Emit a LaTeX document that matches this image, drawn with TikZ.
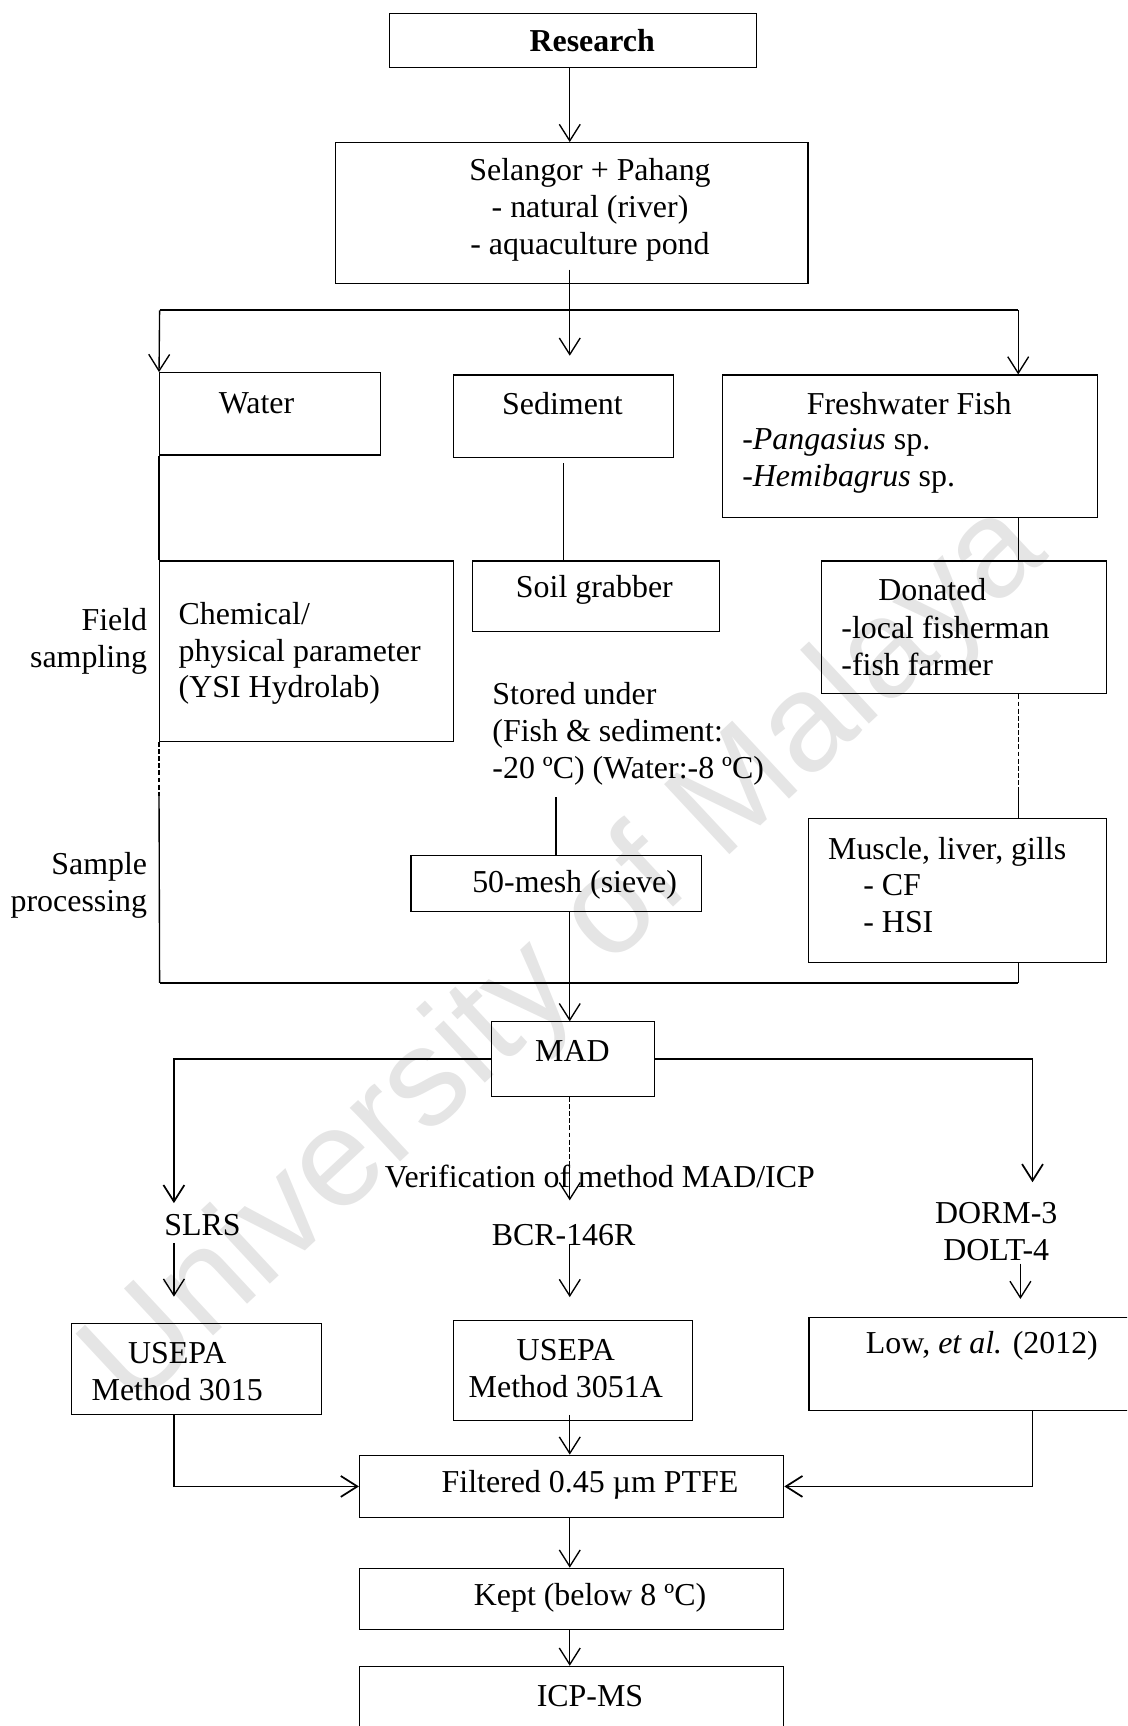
\documentclass[tikz,border=0pt]{standalone}
\usepackage{fontspec}
\setmainfont{Liberation Serif}
\newfontfamily\markfont{Liberation Sans}
\usetikzlibrary{arrows.meta, positioning, calc, fit}

\begin{document}
\begin{tikzpicture}[
  x=0.02cm, y=-0.02cm,
  box/.style = {draw, line width=0.6pt, inner sep=0pt},
  txt/.style = {inner sep=0pt, font=\fontsize{16.5}{19.1}\selectfont},
  line/.style = {line width=0.7pt},
  bus/.style = {line width=1pt},
  dashline/.style = {line width=0.7pt, dash pattern=on 2.5pt off 1.2pt},
  arrow/.style = {line width=0.7pt, -{Straight Barb[length=3mm, width=3.8mm]}}
]

\useasboundingbox (0,0) rectangle (1024,1568);
\clip (0,0) rectangle (1024,1568);

% Watermark
\node[rotate=43, text=black!10, font=\markfont\fontsize{72}{72}\selectfont] (mark) at (515,870) {University of Malaya};

% Helper coordinates
\coordinate (spine) at (517.6,0);
\coordinate (doltx) at (927,0);
\coordinate (bus1) at (145,282);
\coordinate (bus1r) at (925,282);
\coordinate (bus2) at (145,893);
\coordinate (bus2r) at (925,893);
\coordinate (slrstop) at (158,1093);
\coordinate (dormtop) at (938,1074);

% Boxes
\node[box, fit={(354,12) (687,61)}] (research) {};
\node[box, fit={(305,129.6) (734,257.4)}] (selangor) {};
\node[box, fit={(145,338.6) (346,413.4)}] (water) {};
\node[box, fit={(412,340.7) (611.6,415.5)}] (sediment) {};
\node[box, fit={(656.6,340.7) (996.8,470.4)}] (fish) {};
\node[box, fit={(145,509.7) (412,673.3)}] (chem) {};
\node[box, fit={(429,509.7) (653.4,574)}] (soil) {};
\node[box, fit={(746,509.7) (1005.2,630.3)}] (donated) {};
\node[box, fit={(373.4,776.8) (637,828.3)}] (mesh) {};
\node[box, fit={(734.3,743.5) (1005.2,874.7)}] (muscle) {};
\node[box, fit={(446.5,928.3) (594.7,995.8)}] (mad) {};
\node[box, fit={(65.3,1202.5) (292.4,1285)}] (usepaA) {};
\node[box, fit={(411.9,1199.9) (629.2,1290.7)}] (usepaB) {};
\node[box, fit={(734.9,1196.6) (1040,1281)}] (low) {};
\node[box, fit={(326.6,1322) (712,1378.7)}] (filt) {};
\node[box, fit={(326.6,1424.7) (712,1480.4)}] (kept) {};
\node[box, fit={(326.6,1513.8) (712,1580)}] (icp) {};

% Texts
\node[txt] (researchtxt) at (538,37) {\bfseries Research};
\node[txt, align=center] (selangortxt) at (536,190.5) {Selangor + Pahang\\- natural (river)\\- aquaculture pond};
\node[txt] (watertxt) at (233,366) {Water};
\node[txt] (sedimenttxt) at (511,367) {Sediment};
\node[txt] (fishtxt) at (826,367) {Freshwater Fish};
\node[txt, anchor=west, align=left] (fishlist) at (674,419) {-\textit{Pangasius} sp.\\-\textit{Hemibagrus} sp.};
\node[txt, anchor=west, align=left] (chemtxt) at (162,593.6) {Chemical/\\physical parameter\\(YSI Hydrolab)};
\node[txt] (soiltxt) at (540,536) {Soil grabber};
\node[txt] (donatedtxt) at (847,536) {Donated};
\node[txt, anchor=west, align=left] (donatedlist) at (764,587) {-local fisherman\\-fish farmer};
\node[txt, anchor=east, align=right] (field) at (134,583) {Field\\sampling};
\node[txt, anchor=west, align=left] (stored) at (447,667) {Stored under\\(Fish \& sediment:\\-20 ºC) (Water:-8 ºC)};
\node[txt, anchor=east, align=right] (sample) at (134,804) {Sample\\processing};
\node[txt] (meshtxt) at (522,804) {50-mesh (sieve)};
\node[txt, anchor=west, align=left] (muscletxt) at (752,804) {Muscle, liver, gills\\\hspace*{0.64cm}- CF\\\hspace*{0.64cm}- HSI};
\node[txt] (madtxt) at (520,955) {MAD};
\node[txt] (verif) at (545,1068.7) {Verification of method MAD/ICP};
\node[txt] (slrs) at (184,1113) {SLRS};
\node[txt] (bcr) at (512,1122) {BCR-146R};
\node[txt, align=center] (dorm) at (905,1119) {DORM-3\\DOLT-4};
\node[txt, align=center] (usepaAtxt) at (161,1246) {USEPA\\Method 3015};
\node[txt, align=center] (usepaBtxt) at (514,1243) {USEPA\\Method 3051A};
\node[txt] (lowtxt) at (892,1223) {Low, \textit{et al.} (2012)};
\node[txt] (filttxt) at (536,1349) {Filtered 0.45 µm PTFE};
\node[txt] (kepttxt) at (536,1451.5) {Kept (below 8 ºC)};
\node[txt] (icptxt) at (536,1541) {ICP-MS};

% Study area
\draw[arrow] (research.south -| spine) -- (selangor.north -| spine);
\draw[line] ($(selangor.south -| spine)+(0,-13)$) -- (bus1 -| spine);
\draw[bus] (bus1) -- (bus1r);
\draw[arrow] (bus1) -- (water.north west);
\draw[arrow] (bus1 -| spine) -- ($(sediment.north -| spine)+(0,-17)$);
\draw[arrow] (bus1r) -- (fish.north -| bus1r);

% Field sampling
\draw[line] (water.south west) -- (chem.north west);
\draw[line] ([yshift=-0.1cm]sediment.south) -- (sediment.south |- soil.north);
\draw[line] (fish.south -| bus1r) -- (donated.north -| bus1r);

% Sample processing
\draw[dashline] (chem.south west) -- ++(0,49) coordinate (chemcut);
\draw[line] (chemcut) -- (bus2);
\draw[line] ($(stored.south -| mesh.north)+(0,10)$) -- (mesh.north);
\draw[line] (mesh.south -| spine) -- (bus2 -| spine);
\draw[dashline] (donated.south -| bus1r) -- ++(0,84) coordinate (doncut);
\draw[line] (doncut) -- (muscle.north -| bus1r);
\draw[line] (muscle.south -| bus1r) -- (bus2r);
\draw[bus] (bus2) -- (bus2r);

% Digestion and verification
\draw[arrow] (bus2 -| spine) -- (mad.north -| spine);
\draw[arrow, line width=0.9pt] (mad.west) -| (slrstop);
\draw[arrow, line width=0.9pt] (mad.east) -| (dormtop);
\draw[dashline] (mad.south -| spine) -- (verif.north -| spine);
\draw[arrow] (verif.north -| spine) -- ($(verif.south -| spine)+(0,11)$);
\draw[arrow] ($(slrs.south -| slrstop)+(0,6)$) -- ($(usepaA.north -| slrstop)+(0,-24)$);
\draw[arrow] ($(bcr.south -| spine)+(0,-2)$) -- ($(usepaB.north -| spine)+(0,-21)$);
\draw[arrow] ($(dorm.south -| doltx)+(0,2)$) -- ($(low.north -| doltx)+(0,-16)$);

% Filtering and analysis
\draw[arrow, line width=0.9pt] (usepaA.south -| slrstop) |- (filt.west);
\draw[arrow] ($(usepaB.south -| spine)+(0,-6)$) -- (filt.north -| spine);
\draw[arrow, line width=0.9pt] (low.south -| dormtop) |- (filt.east);
\draw[arrow] (filt.south -| spine) -- (kept.north -| spine);
\draw[arrow] (kept.south -| spine) -- (icp.north -| spine);

\end{tikzpicture}
\end{document}
